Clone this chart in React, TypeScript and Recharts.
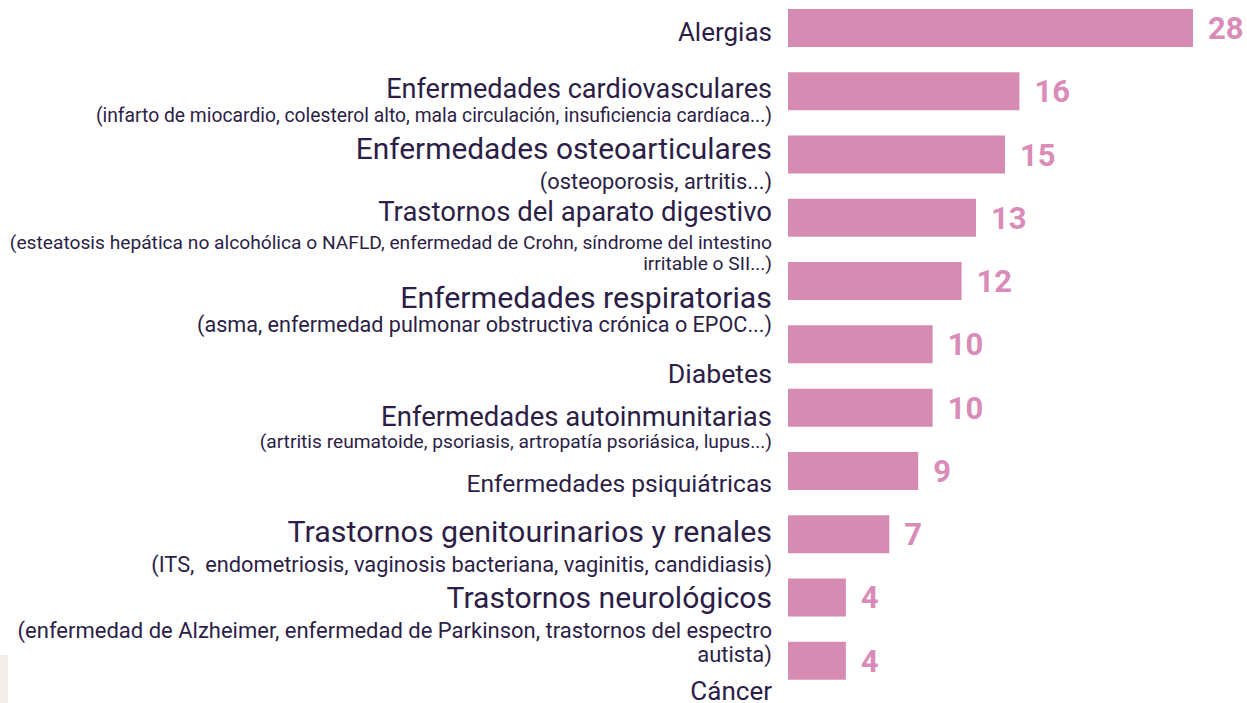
import React from 'react'
import { Bar, BarChart, LabelList, XAxis, YAxis } from 'recharts'

const categories = [
  'Alergias',
  'Enfermedades cardiovasculares',
  'Enfermedades osteoarticulares',
  'Trastornos del aparato digestivo',
  'Enfermedades respiratorias',
  'Diabetes',
  'Enfermedades autoinmunitarias',
  'Enfermedades psiquiátricas',
  'Trastornos genitourinarios y renales',
  'Trastornos neurológicos',
  'Cáncer',
]

const values = [28, 16, 15, 13, 12, 10, 10, 9, 7, 4, 4]

const details: string[][] = [
  [],
  ['(infarto de miocardio, colesterol alto, mala circulación, insuficiencia cardíaca...)'],
  ['(osteoporosis, artritis...)'],
  [
    '(esteatosis hepática no alcohólica o NAFLD, enfermedad de Crohn, síndrome del intestino',
    'irritable o SII...)',
  ],
  ['(asma, enfermedad pulmonar obstructiva crónica o EPOC...)'],
  [],
  ['(artritis reumatoide, psoriasis, artropatía psoriásica, lupus...)'],
  [],
  ['(ITS,  endometriosis, vaginosis bacteriana, vaginitis, candidiasis)'],
  [
    '(enfermedad de Alzheimer, enfermedad de Parkinson, trastornos del espectro',
    'autista)',
  ],
  [],
]

// label layout (font size + baseline offset from the bar centre), not data
const labelLayout = [
  { size: 26, dy: 13.7, sub: 0, subDy: 0, gap: 0 },
  { size: 27.1, dy: 7.5, sub: 19.3, subDy: 24, gap: 0 },
  { size: 29.9, dy: 4.8, sub: 21.8, subDy: 30.5, gap: 0 },
  { size: 27.5, dy: 4, sub: 19.2, subDy: 27.3, gap: 21 },
  { size: 30.3, dy: 27, sub: 21.6, subDy: 24, gap: 0 },
  { size: 26.7, dy: 38.8, sub: 0, subDy: 0, gap: 0 },
  { size: 27.5, dy: 18.5, sub: 19.2, subDy: 22, gap: 0 },
  { size: 24.6, dy: 21.3, sub: 0, subDy: 0, gap: 0 },
  { size: 30.4, dy: 8, sub: 21.8, subDy: 30, gap: 0 },
  { size: 30.1, dy: 10.8, sub: 22, subDy: 30, gap: 24 },
  { size: 26, dy: 39.5, sub: 0, subDy: 0, gap: 0 },
]

const data = categories.map((name, i) => ({ name, total: values[i] }))

const textColor = '#2c1e46'
const barColor = '#d68bb3'

function CategoryTick(props: any) {
  const { y, payload } = props
  const i = categories.indexOf(payload.value)
  const l = labelLayout[i]
  const lines = details[i]
  const right = 772
  return (
    <g>
      <text
        x={right}
        y={y + l.dy}
        textAnchor="end"
        fill={textColor}
        fontSize={l.size}
        fontFamily="Roboto"
      >
        {payload.value}
      </text>
      {lines.map((line, k) => (
        <text
          key={k}
          x={right}
          y={y + l.dy + l.subDy + k * l.gap}
          textAnchor="end"
          fill={textColor}
          fontSize={l.sub}
          fontFamily="Roboto"
          style={{ whiteSpace: 'pre' }}
        >
          {line}
        </text>
      ))}
    </g>
  )
}

export default function App() {
  return (
    <div style={{ position: 'absolute', left: 0, top: -4, background: '#fff' }}>
      <BarChart
        layout="vertical"
        width={1247}
        height={712}
        data={data}
        margin={{ top: 0, right: 54, bottom: 16, left: 0 }}
      >
        <XAxis type="number" domain={[0, 28]} hide />
        <YAxis
          type="category"
          dataKey="name"
          width={788}
          axisLine={false}
          tickLine={false}
          interval={0}
          tick={<CategoryTick />}
        />
        <Bar dataKey="total" fill={barColor} barSize={38} isAnimationActive={false}>
          <LabelList
            dataKey="total"
            position="right"
            offset={15}
            fill="#d98cb8"
            fontSize={31}
            fontWeight={700}
            fontFamily="Roboto"
          />
        </Bar>
      </BarChart>
      <div
        style={{
          position: 'absolute',
          left: 0,
          top: 659,
          width: 8,
          height: 48,
          background: '#f4ece6',
        }}
      />
    </div>
  )
}
